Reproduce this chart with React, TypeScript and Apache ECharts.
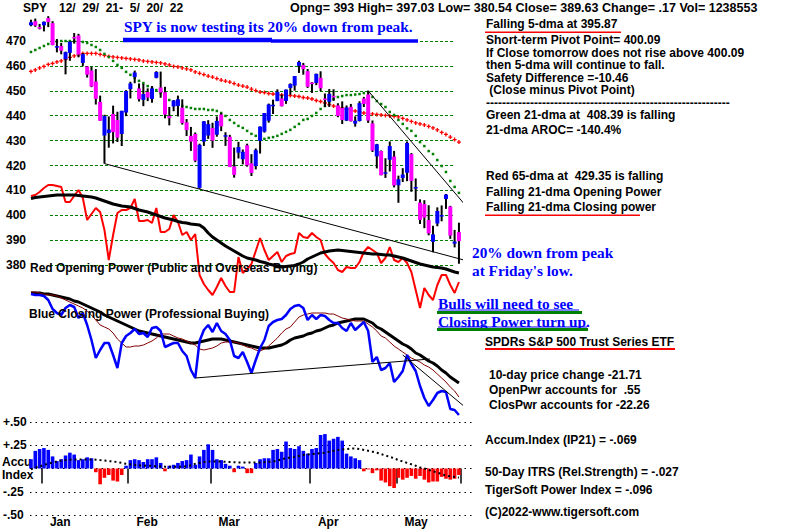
import React, { useEffect, useRef } from 'react';
import * as echarts from 'echarts';

const DATES = [
  '12/29','12/30','12/31','1/3','1/4','1/5','1/6','1/7','1/10','1/11',
  '1/12','1/13','1/14','1/18','1/19','1/20','1/21','1/24','1/25','1/26',
  '1/27','1/28','1/31','2/1','2/2','2/3','2/4','2/7','2/8','2/9',
  '2/10','2/11','2/14','2/15','2/16','2/17','2/18','2/22','2/23','2/24',
  '2/25','2/28','3/1','3/2','3/3','3/4','3/7','3/8','3/9','3/10',
  '3/11','3/14','3/15','3/16','3/17','3/18','3/21','3/22','3/23','3/24',
  '3/25','3/28','3/29','3/30','3/31','4/1','4/4','4/5','4/6','4/7',
  '4/8','4/11','4/12','4/13','4/14','4/18','4/19','4/20','4/21','4/22',
  '4/25','4/26','4/27','4/28','4/29','5/2','5/3','5/4','5/5','5/6',
  '5/9','5/10','5/11','5/12','5/13','5/16','5/17','5/18','5/19','5/20'
];
const MONTH_NAMES = ['', 'Jan', 'Feb', 'Mar', 'Apr', 'May'];

const OPEN = [
  476.37,477.93,475.64,476.30,479.22,477.16,467.89,467.95,462.70,465.23,
  471.59,472.19,461.19,459.74,458.13,453.75,445.56,432.03,433.06,440.72,
  438.26,432.68,441.24,450.68,455.50,450.95,446.35,449.51,446.73,455.22,
  451.34,449.41,439.92,443.73,443.93,443.22,437.33,431.89,432.66,411.02,
  429.61,432.03,435.04,432.37,440.47,431.75,431.55,419.62,425.14,422.52,
  428.12,420.89,419.77,429.89,433.59,438.00,444.34,445.86,446.91,445.94,
  451.16,452.06,460.02,460.34,457.89,453.31,453.13,455.22,446.89,445.59,
  447.97,444.11,443.08,438.03,443.55,436.81,437.86,446.92,448.54,436.91,
  423.67,425.83,417.24,422.29,423.59,412.07,415.01,417.08,424.55,411.10,
  405.10,404.49,398.07,389.37,396.71,399.98,406.53,403.50,388.62,393.25
];
const HIGH = [
  478.56,479.00,476.86,477.85,479.98,477.98,470.82,469.20,465.74,469.85,
  473.20,472.88,465.09,459.96,459.61,458.74,448.06,440.38,439.72,444.04,
  441.59,442.00,450.28,453.63,458.12,452.97,452.78,450.99,451.92,457.88,
  457.71,451.61,443.50,446.28,448.06,446.57,438.66,435.50,433.26,428.76,
  437.84,438.20,437.17,439.72,441.11,433.37,432.30,427.21,429.51,426.43,
  428.77,424.55,426.84,435.68,441.07,444.86,446.46,450.58,448.49,450.50,
  452.98,455.91,462.07,461.20,458.76,453.46,456.91,457.83,448.93,450.69,
  450.63,445.00,445.75,444.11,444.73,439.75,445.80,447.57,450.01,438.08,
  428.69,426.04,422.92,429.64,425.87,415.92,418.93,429.66,425.00,414.80,
  406.41,406.08,404.04,395.80,403.18,403.97,408.57,403.80,394.14,397.03
];
const LOW = [
  475.92,475.67,474.67,473.85,475.58,468.28,465.43,464.65,456.60,462.05,
  468.94,463.44,459.90,455.31,451.46,444.50,437.95,420.76,427.15,428.86,
  429.45,427.82,439.81,446.94,453.05,445.71,443.83,445.85,445.22,455.01,
  447.20,438.94,436.12,441.80,439.69,436.42,431.82,425.86,421.35,410.64,
  427.86,430.70,427.11,431.57,433.80,427.88,419.36,415.12,422.82,420.44,
  419.53,415.79,418.42,424.80,433.19,437.22,440.68,445.86,443.71,444.76,
  448.43,450.06,457.18,456.47,451.16,449.14,452.26,449.82,443.47,443.53,
  445.94,439.39,436.65,437.84,437.68,435.61,437.68,443.48,437.10,425.44,
  418.84,416.07,415.01,417.60,411.21,405.02,413.36,413.71,409.44,405.73,
  396.50,394.82,391.96,385.15,395.61,397.60,402.58,390.55,387.11,380.54
];
const CLOSE = [
  477.48,476.16,474.96,477.71,477.55,468.38,467.94,466.09,465.51,469.75,
  471.02,464.53,464.72,456.49,451.75,446.75,437.98,439.84,434.47,433.38,
  431.24,441.95,449.91,452.95,457.35,446.60,448.70,447.26,450.94,457.54,
  449.32,440.46,439.02,446.10,446.60,437.06,434.23,429.57,421.95,428.30,
  437.75,436.63,429.98,437.89,435.71,432.17,419.43,416.25,427.41,425.48,
  420.07,417.00,426.17,435.62,441.07,444.52,444.39,449.59,443.80,450.49,
  452.69,455.91,461.55,458.70,451.64,452.92,456.80,451.03,446.52,448.77,
  447.57,439.92,438.29,443.31,437.79,437.97,445.04,444.71,438.06,426.04,
  428.51,416.10,417.27,427.81,412.00,414.48,416.38,429.06,413.81,411.34,
  398.17,399.09,392.75,392.34,401.72,400.09,408.32,391.86,389.46,389.63
];
const MA21 = [
  465.6,466.4,467.2,468.0,468.8,469.4,469.8,470.0,470.0,470.0,
  470.0,469.8,469.6,469.2,468.4,467.6,466.4,464.8,463.6,462.0,
  460.4,459.2,457.6,456.4,455.2,454.0,453.1,451.9,451.1,450.3,
  449.1,447.5,446.3,445.5,444.3,443.9,443.5,443.1,442.7,442.7,
  442.7,442.3,442.3,441.9,441.1,439.9,438.3,437.1,435.9,435.1,
  433.9,432.7,431.9,431.1,430.7,431.1,431.4,431.9,432.7,433.5,
  434.3,435.5,436.7,438.3,438.7,439.9,441.1,442.7,443.9,445.5,
  446.7,447.5,447.9,448.3,448.3,448.5,448.7,449.1,449.5,447.5,
  445.9,444.7,443.5,441.5,440.3,438.3,436.7,434.9,433.9,431.9,
  429.4,427.8,425.8,424.6,422.2,419.8,417.4,413.8,411.4,409.0
];
const MA65 = [
  457.8,458.4,459.2,459.8,460.6,461.0,461.6,462.0,462.6,463.4,
  464.0,464.4,465.0,465.0,465.0,465.0,464.6,464.2,463.8,463.6,
  463.4,463.2,463.0,462.8,462.6,462.4,462.0,461.8,461.6,461.4,
  461.2,460.8,460.4,459.8,459.6,459.2,458.8,458.4,457.6,457.0,
  456.5,455.9,455.5,454.9,454.3,453.9,453.5,452.9,452.3,451.9,
  451.5,450.7,450.1,449.5,449.3,448.9,448.7,448.5,448.3,448.1,
  448.1,447.9,447.7,447.3,447.1,446.7,446.1,445.7,445.1,444.5,
  443.9,443.5,443.1,442.7,442.3,441.9,441.5,441.1,440.9,440.7,
  440.5,440.3,440.1,439.9,439.7,439.5,438.9,438.3,437.7,437.1,
  436.7,436.3,435.7,435.1,434.3,433.3,432.5,431.4,430.4,429.4
];
// Opening Power (red) and its moving average (black), chart units
const OPEN_POWER = [
  104,105,108,112,115,115,114,113,98,98,
  104,110,102,80,86,92,88,70,40,65,
  87,90,90,92,101,79,79,80,77,92,
  68,68,71,85,78,65,68,60,66,25,
  16,10,5,13,22,14,8,8,43,27,
  31,36,49,62,50,40,44,48,38,44,
  46,47,67,63,62,67,63,60,46,41,
  37,30,28,33,32,32,38,48,53,50,
  47,37,42,53,40,38,42,37,28,10,
  -8,12,5,0,15,25,25,15,7,18
];
const OPEN_POWER_MA = [
  101.5,102.5,103,103.5,104,104.5,105,105,105,105,
  105,104.5,104,103.5,103,102,100.5,99,97.5,96,
  95,94,93.5,93,91.5,90,89,88,86.5,85,
  83.5,82,81,80,78.5,77.5,77,76,75.5,75,
  72,67,63,60,57,54,51.5,49,46.5,44,
  42,41,40,38.5,37.5,36,35,34,33,33.5,
  34,34.5,36,38,41,43,45,47,48,49,
  49.5,50,49.5,49,48.5,48,47.5,47,46.5,46,
  46,45.5,45,45,44,43,42,40.5,39,37.5,
  36,35,34,33,32.5,32,31,29.5,28,27
];
// Closing Power (blue), short MA (brown), long MA (black), chart units
const CLOSE_POWER = [
  206,205,205,204,200,191,187,185,192,195,
  193,182,187,175,160,142,150,157,157,145,
  132,157,164,167,171,166,167,163,172,173,
  169,153,155,157,157,149,144,130,122,159,
  170,175,168,177,169,166,160,144,142,148,
  138,127,140,152,160,174,178,180,181,185,
  191,194,195,192,180,185,181,185,184,180,
  177,177,172,169,177,170,174,178,169,138,
  143,130,132,137,118,123,129,145,136,129,
  114,102,94,100,107,109,108,91,90,85
];
const CLOSE_POWER_MA_SHORT = [
  208,208,207,206,205,205,204,202,200,198,
  196,194,192,189,185,180,175,173,171,167,
  161,157,153,153,154,154,155,157,159,162,
  166,166,166,164,162,161,159,157,155,151,
  150,151,152,154,157,158,158,158,157,155,
  153,152,150,149,151,154,158,162,167,171,
  173,178,183,185,186,187,187,187,187,186,
  186,184,182,181,180,179,179,179,176,173,
  169,164,162,158,154,151,148,145,142,140,
  138,135,133,130,126,122,118,113,109,103
];
const CLOSE_POWER_MA_LONG = [
  207,207,207,206,206,205,204,203,202,201,
  199,198,196,194,192,190,188,185,183,181,
  179,177,175,173,171,169,168,167,166,165,
  164,163,162,161,160,159,158,157,157,158,
  159,160,161,161,161,160,159,158,157,156,
  155,154,153,152,152,152,153,154,155,157,
  160,162,163,164,166,167,169,170,172,174,
  175,177,178,179,180,181,181,181,179,177,
  173,171,168,165,162,159,156,154,151,147,
  145,142,139,137,134,130,127,123,120,117
];
const ACCUM = [
  0.10,0.19,0.21,0.22,0.20,0.13,0.08,0.10,0.14,0.17,
  0.15,0.09,0.10,0.12,0.11,-0.04,-0.17,-0.10,-0.07,-0.13,
  -0.14,-0.07,0.03,0.09,0.10,0.09,0.07,0.10,0.10,0.12,
  0.06,-0.03,0.03,0.04,0.06,0.08,0.09,0.15,0.04,0.13,
  0.20,0.26,0.20,0.10,0.09,0.05,0.03,-0.04,0.03,0.02,
  -0.05,-0.05,0.06,0.10,0.11,0.11,0.20,0.21,0.18,0.29,
  0.22,0.21,0.24,0.19,0.16,0.21,0.22,0.36,0.37,0.30,
  0.32,0.34,0.30,0.16,0.13,0.11,0.09,-0.03,-0.01,-0.05,
  -0.02,-0.13,-0.15,-0.19,-0.21,-0.10,-0.12,-0.10,-0.08,-0.11,
  -0.08,-0.12,-0.15,-0.14,-0.14,-0.09,-0.11,-0.12,-0.11,-0.07
];
const ACCUM_MA = [
  -0.01,0.01,0.02,0.04,0.05,0.065,0.075,0.085,0.09,0.095,
  0.097,0.097,0.097,0.097,0.097,0.095,0.09,0.085,0.08,0.075,
  0.07,0.06,0.05,0.045,0.04,0.035,0.032,0.03,0.028,0.025,
  0.022,0.02,0.02,0.02,0.02,0.02,0.025,0.035,0.05,0.06,
  0.07,0.075,0.075,0.075,0.075,0.072,0.07,0.068,0.065,0.065,
  0.065,0.065,0.065,0.065,0.068,0.072,0.075,0.085,0.1,0.11,
  0.118,0.125,0.135,0.145,0.15,0.155,0.16,0.165,0.17,0.18,
  0.19,0.2,0.205,0.21,0.215,0.215,0.21,0.2,0.19,0.18,
  0.17,0.155,0.14,0.125,0.11,0.09,0.075,0.06,0.045,0.03,
  0.01,0.0,-0.015,-0.03,-0.045,-0.06,-0.075,-0.085,-0.092,-0.097
];
// Trend lines: [dayIndex, value]
const PRICE_SUPPORT_LINE = [[17, 420.76], [101.1, 381.6]];
const PRICE_DOWN_LINE = [[78, 450.01], [107.3, 390.1]];
const CP_SUPPORT_LINE = [[38, 122], [92.3, 141]];
const CP_DOWN_LINE = [[86, 145], [106.2, 72]];

const ACCUM_LABELS: Record<string, string> = { '0.5': '+.50', '0.25': '+.25', '0': '', '-0.25': '-.25', '-0.5': '-.50' };

const FONT = '"Liberation Sans", Arial, sans-serif';
const SERIF = '"Liberation Serif", "Times New Roman", serif';

const monthStarts = new Set<number>();
DATES.forEach((d, i) => {
  if (i > 0 && d.split('/')[0] !== DATES[i - 1].split('/')[0]) monthStarts.add(i);
});

function txt(text: string, x: number, y: number, opts: any = {}) {
  return {
    type: 'text', x, y, z: opts.z ?? 100,
    style: {
      text,
      font: opts.font ?? `bold ${opts.size ?? 12}px ${FONT}`,
      fill: opts.fill ?? '#000',
      lineHeight: opts.lh ?? 10,
      verticalAlign: 'middle',
      textVerticalAlign: 'middle',
    },
  };
}
function rect(x: number, y: number, w: number, h: number, fill: string) {
  return { type: 'rect', z: 100, shape: { x, y, width: w, height: h }, style: { fill } };
}

export default function App() {
  const ref = useRef<HTMLDivElement>(null);
  useEffect(() => {
    const chart = echarts.init(ref.current!, null, { renderer: 'svg' });
    const L = 28.8, W = 432.3;
    const hiddenCat = (grid: number) => ({ type: 'category', gridIndex: grid, data: DATES, boundaryGap: true, show: false });
    const hiddenVal = (grid: number, min: number, max: number) => ({ type: 'value', gridIndex: grid, min, max, show: false });
    const labelStyle = { fontFamily: FONT, fontWeight: 'bold', fontSize: 12, color: '#000' };

    const candleData = DATES.map((_, i) => [i, OPEN[i], CLOSE[i], LOW[i], HIGH[i]]);
    const serif = `bold 15.3px ${SERIF}`;

    const option: any = {
      animation: false,
      backgroundColor: '#fff',
      grid: [
        { left: L, width: W, top: 16.1, height: 249 },
        { left: 50, width: 403, top: 41, height: 224.1 },
        { left: L, width: W, top: 150, height: 170 },
        { left: L, width: W, top: 280, height: 150 },
        { left: L, width: W, top: 422, height: 93 },
        { left: 30, width: 442, top: 422, height: 93 },
      ],
      xAxis: [
        hiddenCat(0),
        hiddenVal(0, -0.5, 99.5),
        hiddenVal(1, 0, 1),
        hiddenCat(2),
        hiddenCat(3),
        hiddenVal(3, -0.5, 99.5),
        {
          type: 'category', gridIndex: 4, data: DATES, boundaryGap: true,
          axisLine: { show: false },
          axisTick: { show: true, length: 15, interval: (i: number) => monthStarts.has(i), lineStyle: { color: '#000', width: 1.5 } },
          axisLabel: {
            ...labelStyle, interval: (i: number) => monthStarts.has(i), margin: 1, align: 'left', padding: [0, 0, 0, 6],
            formatter: (v: string) => MONTH_NAMES[parseInt(v.split('/')[0], 10)] || '',
          },
        },
        hiddenVal(5, 0, 1),
      ],
      yAxis: [
        hiddenVal(0, 380, 480),
        {
          type: 'value', gridIndex: 1, min: 380, max: 470, interval: 10,
          axisLine: { show: false }, axisTick: { show: false },
          axisLabel: { ...labelStyle, margin: 24 },
          splitLine: { show: true, lineStyle: { color: '#008000', type: [3, 2], width: 1 } },
        },
        hiddenVal(2, -20, 150),
        hiddenVal(3, 70, 220),
        hiddenVal(4, -0.5, 0.5),
        {
          type: 'value', gridIndex: 5, min: -0.5, max: 0.5, interval: 0.25,
          axisLine: { show: false }, axisTick: { show: false },
          axisLabel: { ...labelStyle, margin: 27, align: 'left', formatter: (v: number) => ACCUM_LABELS[String(v)] ?? '' },
          splitLine: { show: true, lineStyle: { color: '#000', type: [1.5, 4], width: 1.2 } },
        },
      ],
      series: [
        { type: 'line', xAxisIndex: 2, yAxisIndex: 1, data: [], silent: true },
        { type: 'line', xAxisIndex: 7, yAxisIndex: 5, data: [], silent: true },
        // Opening power
        { type: 'line', xAxisIndex: 3, yAxisIndex: 2, data: OPEN_POWER, symbol: 'none', lineStyle: { color: '#ff0000', width: 2 }, z: 3 },
        { type: 'line', xAxisIndex: 3, yAxisIndex: 2, data: OPEN_POWER_MA, symbol: 'none', lineStyle: { color: '#000', width: 3 }, z: 3 },
        // moving averages
        {
          type: 'line', xAxisIndex: 0, yAxisIndex: 0, data: MA65, symbol: 'path://M1 0h1v1h1v1h-1v1h-1v-1h-1v-1h1z', symbolSize: 4,
          showAllSymbol: true, itemStyle: { color: '#ff0000' }, lineStyle: { opacity: 0, width: 0 }, z: 4,
        },
        {
          type: 'line', xAxisIndex: 0, yAxisIndex: 0, data: MA21, symbol: 'rect', symbolSize: 2.5,
          showAllSymbol: true, itemStyle: { color: '#008000' }, lineStyle: { opacity: 0, width: 0 }, z: 4,
        },
        // candles
        {
          type: 'custom', xAxisIndex: 0, yAxisIndex: 0, data: candleData, z: 5,
          encode: { x: 0, y: [1, 2, 3, 4] },
          renderItem: (_p: any, api: any) => {
            const i = api.value(0), o = api.value(1), c = api.value(2), l = api.value(3), h = api.value(4);
            const pO = api.coord([i, o]), pC = api.coord([i, c]), pL = api.coord([i, l]), pH = api.coord([i, h]);
            const top = Math.min(pO[1], pC[1]);
            const ht = Math.max(Math.abs(pO[1] - pC[1]), 1.5);
            return {
              type: 'group',
              children: [
                { type: 'line', shape: { x1: pL[0], y1: pL[1], x2: pH[0], y2: pH[1] }, style: { stroke: '#000', lineWidth: 2 } },
                { type: 'rect', shape: { x: pO[0] - 2, y: top, width: 4, height: ht }, style: { fill: c >= o ? '#0000ff' : '#ff00ff' } },
              ],
            };
          },
        },
        // price trend lines
        { type: 'line', xAxisIndex: 1, yAxisIndex: 0, data: PRICE_SUPPORT_LINE, symbol: 'none', clip: false, lineStyle: { color: '#000', width: 1 }, z: 6 },
        { type: 'line', xAxisIndex: 1, yAxisIndex: 0, data: PRICE_DOWN_LINE, symbol: 'none', clip: false, lineStyle: { color: '#000', width: 1 }, z: 6 },
        // closing power
        { type: 'line', xAxisIndex: 4, yAxisIndex: 3, data: CLOSE_POWER_MA_LONG, symbol: 'none', lineStyle: { color: '#000', width: 3 }, z: 3 },
        { type: 'line', xAxisIndex: 4, yAxisIndex: 3, data: CLOSE_POWER_MA_SHORT, symbol: 'none', lineStyle: { color: '#800000', width: 1 }, z: 3 },
        { type: 'line', xAxisIndex: 4, yAxisIndex: 3, data: CLOSE_POWER, symbol: 'none', lineStyle: { color: '#0000ff', width: 2.5 }, z: 4 },
        { type: 'line', xAxisIndex: 5, yAxisIndex: 3, data: CP_SUPPORT_LINE, symbol: 'none', clip: false, lineStyle: { color: '#000', width: 1 }, z: 6 },
        { type: 'line', xAxisIndex: 5, yAxisIndex: 3, data: CP_DOWN_LINE, symbol: 'none', clip: false, lineStyle: { color: '#000', width: 1 }, z: 6 },
        // accumulation index
        {
          type: 'bar', xAxisIndex: 6, yAxisIndex: 4, barWidth: 3.6, z: 3,
          data: ACCUM.map((v) => ({ value: v, itemStyle: { color: v >= 0 ? '#0000ff' : '#ff0000' } })),
        },
        { type: 'line', xAxisIndex: 6, yAxisIndex: 4, data: ACCUM_MA, symbol: 'none', lineStyle: { color: '#000', width: 2, type: [2, 3] }, z: 4 },
      ],
      graphic: [
        txt('SPY', 23, 8),
        txt('12/  29/  21-  5/  20/  22', 59, 8),
        txt('Opng= 393 High= 397.03 Low= 380.54 Close= 389.63 Change= .17 Vol= 1238553', 290, 8, { size: 12.5 }),
        txt('SPY is now testing its 20% down from peak.', 124, 26, { font: serif, fill: '#0000ff', lh: 13 }),
        rect(123, 37.7, 149, 4.6, '#0000ff'),
        rect(271, 39.3, 147, 3.4, '#0000ff'),
        txt('Falling 5-dma at 395.87', 486, 24),
        rect(485, 31.5, 136, 1.5, '#ff0000'),
        txt('Short-term Pivot Point= 400.09', 486, 40),
        txt('If Close tomorrow does not rise above 400.09', 486, 52.5),
        txt('then 5-dma will continue to fall.', 486, 65),
        txt('Safety Difference =-10.46', 486, 77.5),
        txt(' (Close minus Pivot Point)', 486, 90),
        txt('-'.repeat(61), 486, 102.5),
        txt('Green 21-dma at  408.39 is falling', 486, 115),
        txt('21-dma AROC= -140.4%', 486, 130),
        txt('Red 65-dma at  429.35 is falling', 486, 176),
        txt('Falling 21-dma Opening Power', 486, 192),
        txt('Falling 21-dma Closing power', 486, 207),
        rect(485, 214.5, 155, 1.5, '#ff0000'),
        txt('20% down from peak', 472, 252, { font: serif, fill: '#0000ff', lh: 13 }),
        txt("at Friday's low.", 472, 270, { font: serif, fill: '#0000ff', lh: 13 }),
        txt('Red Opening Power (Public and Overseas Buying)', 30, 268),
        txt('Blue Closing Power (Professional Buying)', 29, 314),
        txt('Bulls will need to see', 438, 303, { font: serif, fill: '#0000ff', lh: 13 }),
        rect(438, 309.5, 141, 1, '#0000ff'),
        rect(437, 311, 145, 3, '#008000'),
        txt('Closing Power turn up.', 438, 321, { font: serif, fill: '#0000ff', lh: 13 }),
        rect(438, 326.5, 149, 1, '#0000ff'),
        rect(437, 328, 151, 3, '#008000'),
        txt('SPDRs S&P 500 Trust Series ETF', 485, 342),
        rect(485, 348, 190, 2, '#ff0000'),
        txt('10-day price change -21.71', 489, 375),
        txt('OpenPwr accounts for  .55', 489, 390),
        txt('ClosPwr accounts for -22.26', 489, 405),
        txt('Accum.Index (IP21) = -.069', 485, 440),
        txt('50-Day ITRS (Rel.Strength) = -.027', 485, 472),
        txt('TigerSoft Power Index = -.096', 485, 490),
        txt('(C)2022-www.tigersoft.com', 485, 512),
        txt('Accu', 2, 462, { z: 0 }),
        txt('Index', 2, 475, { z: 0 }),
      ],
    };
    chart.setOption(option);
    return () => chart.dispose();
  }, []);
  return <div ref={ref} style={{ position: 'fixed', left: 0, top: 0, width: 800, height: 530, background: '#fff' }} />;
}
